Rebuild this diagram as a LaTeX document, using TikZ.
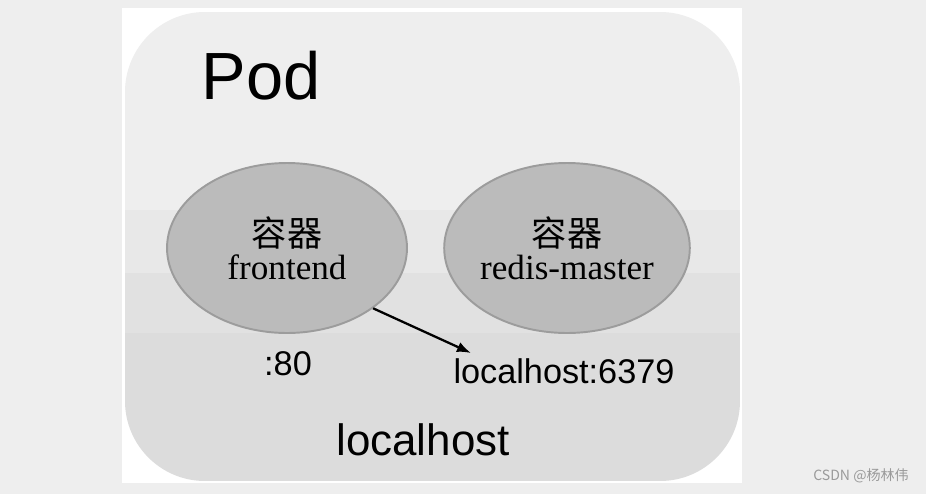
\documentclass[tikz,border=0pt]{standalone}
\usepackage{fontspec}
\setmainfont{Liberation Serif}
\newfontfamily\arialfont{Liberation Sans}
\newfontfamily\cjk{Noto Sans CJK SC}
\usetikzlibrary{positioning,arrows.meta,shapes.geometric}

\definecolor{pagegray}{HTML}{EEEEEE}
\definecolor{podtop}{HTML}{EEEEEE}
\definecolor{podmid}{HTML}{E8E8E8}
\definecolor{podband}{HTML}{E1E1E1}
\definecolor{podlow}{HTML}{DCDCDC}
\definecolor{boxfill}{HTML}{BBBBBB}
\definecolor{boxline}{HTML}{9C9C9C}
\definecolor{markgray}{HTML}{9A9A9A}

\tikzset{
  container/.style={draw=boxline, line width=1.1pt, fill=boxfill, ellipse,
    inner sep=0pt, minimum width=4.8cm, minimum height=3.4cm, align=center,
    font=\fontsize{20}{19}\selectfont},
  portlabel/.style={inner sep=0pt, font=\arialfont\fontsize{19.5}{20}\selectfont}
}

\begin{document}
\begin{tikzpicture}[x=0.02cm, y=-0.02cm, >={Latex[length=8pt,width=6pt]}]
  \useasboundingbox (0,0) rectangle (926,494);
  \fill[pagegray] (0,0) rectangle (926,494);
  \fill[white] (122,8) rectangle (742,483);
  % pod background with bands
  \begin{scope}
    \clip[rounded corners=1.6cm] (125,12) rectangle (740,481);
    \fill[podtop] (125,12) rectangle (740,210);
    \fill[podmid] (125,210) rectangle (740,273);
    \fill[podband] (125,273) rectangle (740,333);
    \fill[podlow] (125,333) rectangle (740,481);
  \end{scope}

  \node[font=\arialfont\fontsize{38}{40}\selectfont, inner sep=0pt] (pod) at (261,76) {Pod};

  \node[container] (frontend) at (287,248) {{\cjk 容器}\\frontend};
  \node[container, minimum width=4.72cm] (redis) at (567,248) {{\cjk 容器}\\redis-master};

  \node[portlabel] (web) at (288,364) {:80};
  \node[portlabel] (port) at (564,371) {localhost:6379};
  \node[font=\arialfont\fontsize{25}{26}\selectfont, inner sep=0pt] (host) at (423,440) {localhost};

  \coordinate (tip) at (471,353);
  \draw[->, line width=1.3pt] (frontend.-35) -- (tip);

  \node[font=\cjk\fontsize{8}{9}\selectfont, text=markgray, inner sep=0pt] (mark) at (861,476) {CSDN @杨林伟};
\end{tikzpicture}
\end{document}
